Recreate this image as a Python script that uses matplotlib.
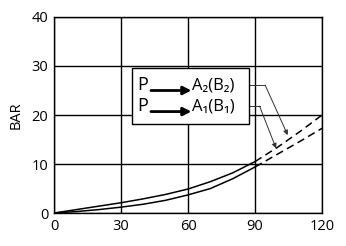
import matplotlib
matplotlib.use('Agg')
import matplotlib.pyplot as plt

plt.rcParams['font.family'] = ['Open Sans', 'DejaVu Sans']

flow = [0, 10, 20, 30, 40, 50, 60, 70, 80, 90, 100, 110, 120]
bar_a2 = [0, 0.7, 1.4, 2.1, 2.9, 3.8, 4.9, 6.4, 8.2, 10.5, 13.4, 16.6, 20.0]
bar_a1 = [0, 0.3, 0.7, 1.2, 1.8, 2.6, 3.7, 5.0, 7.0, 9.4, 12.0, 14.6, 17.3]
x_ticks = [0, 30, 60, 90, 120]
y_ticks = [0, 10, 20, 30, 40]
labels = ['A\u2082(B\u2082)', 'A\u2081(B\u2081)']

fig = plt.figure(figsize=(3.46, 2.46), dpi=100)
ax = fig.add_axes([0.156, 0.134, 0.775, 0.797])

solid_end = 10  # solid up to 90, dashed afterwards
for ys in (bar_a2, bar_a1):
    ax.plot(flow[:solid_end], ys[:solid_end], color='black', lw=1.1)
    ax.plot(flow[solid_end - 1:], ys[solid_end - 1:], color='black', lw=1.1, ls=(0, (5, 3)))

ax.set_xlim(0, 120)
ax.set_ylim(0, 40)
ax.set_xticks(x_ticks)
ax.set_yticks(y_ticks)
ax.grid(True, color='black', lw=1)
ax.tick_params(length=0, labelsize=10.5, pad=4)
for s in ax.spines.values():
    s.set_linewidth(1)
ax.set_ylabel('BAR', fontsize=10.5, labelpad=6)

# legend box
ax.add_patch(plt.Rectangle((35, 18.2), 52.3, 11.4, fill=True, facecolor='white',
                           edgecolor='black', lw=1, zorder=3))
rows_y = [26.1, 21.8]
for lab, ty in zip(labels, rows_y):
    ax.text(39.5, ty, 'P', fontsize=13, va='center', ha='center', zorder=4)
    ax.annotate('', xy=(61.5, ty - 1.1), xytext=(43.4, ty - 1.1), zorder=4,
                arrowprops=dict(arrowstyle='-|>', color='black', lw=2, mutation_scale=12,
                                shrinkA=0, shrinkB=0))
    ax.text(61.8, ty, lab, fontsize=12, va='center', ha='left', zorder=4)

# leader lines to curves
leaders = [((82.9, 26.1), (94.5, 26.1), (104.6, 15.9)),
           ((82.9, 21.8), (92.0, 21.8), (99.4, 13.2))]
for start, corner, tip in leaders:
    ax.plot([start[0], corner[0]], [start[1], corner[1]], color='#333333', lw=0.7,
            clip_on=False)
    ax.annotate('', xy=tip, xytext=corner,
                arrowprops=dict(arrowstyle='-|>', color='#333333', lw=0.7, mutation_scale=7,
                                shrinkA=0, shrinkB=0))

fig.savefig('out.png', dpi=100)
